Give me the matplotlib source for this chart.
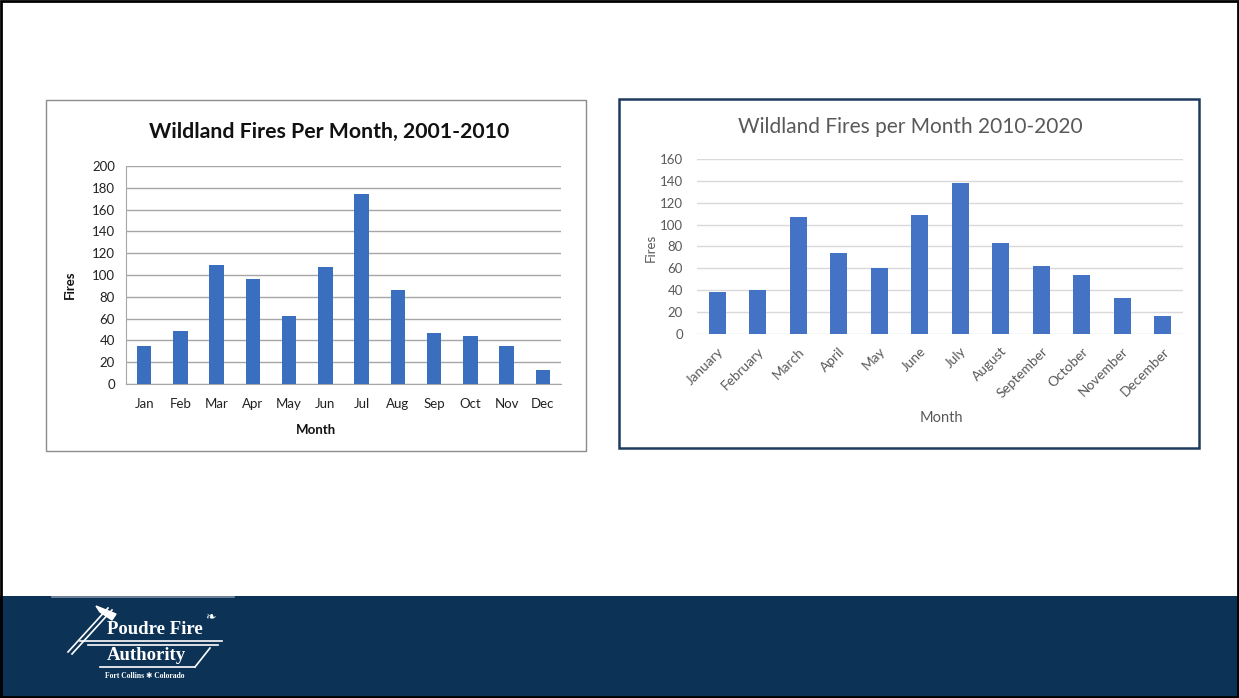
import matplotlib
matplotlib.use("Agg")
import matplotlib.pyplot as plt
from matplotlib.patches import Rectangle, Polygon
from matplotlib.lines import Line2D

# ---------------- data ----------------
months_short = ["Jan", "Feb", "Mar", "Apr", "May", "Jun", "Jul", "Aug", "Sep", "Oct", "Nov", "Dec"]
fires_2001_2010 = [35, 49, 109, 96, 62, 107, 174, 86, 47, 44, 35, 13]
yticks_left = [0, 20, 40, 60, 80, 100, 120, 140, 160, 180, 200]

months_long = ["January", "February", "March", "April", "May", "June", "July",
               "August", "September", "October", "November", "December"]
fires_2010_2020 = [38, 40, 107, 74, 60, 109, 138, 83, 62, 54, 33, 16]
yticks_right = [0, 20, 40, 60, 80, 100, 120, 140, 160]

title_left = "Wildland Fires Per Month, 2001-2010"
title_right = "Wildland Fires per Month 2010-2020"

# ---------------- layout helpers ----------------
W, H = 1239, 698
fig = plt.figure(figsize=(W / 100, H / 100), dpi=100)
fig.patch.set_facecolor("white")


def rect(x0, y0, x1, y1):
    return [x0 / W, 1 - y1 / H, (x1 - x0) / W, (y1 - y0) / H]


def fx(x):
    return x / W


def fy(y):
    return 1 - y / H


# bottom navy band
fig.add_artist(Rectangle((0, 0), 1, fy(596), transform=fig.transFigure,
                         facecolor="#0c3356", edgecolor="none", zorder=0))
fig.add_artist(Line2D([fx(52), fx(234)], [fy(597), fy(597)], transform=fig.transFigure,
                      color="#7f8fa3", lw=1.2))

# outer border
fig.add_artist(Rectangle((0.0008, 0.0014), 0.9984, 0.9972, transform=fig.transFigure,
                         facecolor="none", edgecolor="black", lw=2, zorder=10))

# ---------------- left panel ----------------
fig.add_artist(Rectangle((fx(46), fy(451)), fx(586) - fx(46), fy(100) - fy(451),
                         transform=fig.transFigure, facecolor="white",
                         edgecolor="#8c8c8c", lw=1.0, zorder=1))

axL = fig.add_axes(rect(126, 166, 561, 384))
axL.set_zorder(2)
xL = list(range(len(months_short)))
axL.bar(xL, fires_2001_2010, width=0.4, color="#3a6fc0", zorder=3)
axL.set_xlim(-0.5, 11.5)
axL.set_ylim(0, 200)
axL.set_yticks(yticks_left)
axL.set_xticks(xL)
axL.set_xticklabels(months_short, fontsize=9.5, family="Lato", color="#222222")
axL.set_yticklabels([str(v) for v in yticks_left], fontsize=9.5, family="Lato", color="#222222")
axL.tick_params(axis="both", length=0)
axL.tick_params(axis="y", pad=8)
axL.tick_params(axis="x", pad=10)
axL.grid(axis="y", color="#a6a6a6", lw=1.0, zorder=0)
for s in ["top", "right"]:
    axL.spines[s].set_visible(False)
axL.spines["left"].set_color("#a6a6a6")
axL.spines["bottom"].set_color("#a6a6a6")
axL.set_facecolor("white")

fig.text(fx(329), fy(132), title_left, ha="center", va="center",
         fontsize=15.3, fontweight="bold", family="Lato", color="#111111")
fig.text(fx(70), fy(285), "Fires", ha="center", va="center", rotation=90,
         fontsize=9.5, fontweight="bold", family="Lato", color="#111111")
fig.text(fx(316), fy(430), "Month", ha="center", va="center",
         fontsize=9.5, fontweight="bold", family="Lato", color="#111111")

# ---------------- right panel ----------------
fig.add_artist(Rectangle((fx(619), fy(448)), fx(1199) - fx(619), fy(99) - fy(448),
                         transform=fig.transFigure, facecolor="white",
                         edgecolor="#1f3a5f", lw=1.8, zorder=1))

axR = fig.add_axes(rect(697, 159, 1183, 334))
axR.set_zorder(2)
xR = list(range(len(months_long)))
axR.bar(xR, fires_2010_2020, width=0.42, color="#4472c4", zorder=3)
axR.set_xlim(-0.5, 11.5)
axR.set_ylim(0, 160)
axR.set_yticks(yticks_right)
axR.set_xticks(xR)
axR.set_xticklabels(months_long, fontsize=9.8, family="Lato", color="#595959",
                    rotation=45, ha="right", rotation_mode="anchor")
axR.set_yticklabels([str(v) for v in yticks_right], fontsize=9.5, family="Lato", color="#595959")
axR.tick_params(axis="both", length=0)
axR.tick_params(axis="y", pad=10)
axR.tick_params(axis="x", pad=8)
axR.grid(axis="y", color="#d9d9d9", lw=1.0, zorder=0)
for s in ["top", "right", "left", "bottom"]:
    axR.spines[s].set_visible(False)
axR.set_facecolor("white")

fig.text(fx(910), fy(127), title_right, ha="center", va="center",
         fontsize=15, family="Lato", color="#595959")
fig.text(fx(651), fy(248), "Fires", ha="center", va="center", rotation=90,
         fontsize=9.5, family="Lato", color="#595959")
fig.text(fx(941), fy(418), "Month", ha="center", va="center",
         fontsize=10.5, family="Lato", color="#595959")

# ---------------- logo ----------------
wc = "white"
fig.text(fx(155), fy(629), "Poudre Fire", ha="center", va="center", fontsize=13.5,
         family="Liberation Serif", fontweight="bold", color=wc)
fig.text(fx(146), fy(655), "Authority", ha="center", va="center", fontsize=13.5,
         family="Liberation Serif", fontweight="bold", color=wc)
fig.text(fx(145), fy(676), "Fort Collins \u2731 Colorado", ha="center", va="center",
         fontsize=5.5, family=["Liberation Serif", "DejaVu Sans"], fontweight="bold", color=wc)
# decorative lines
for (x0, y0, x1, y1) in [(80, 641, 222, 641), (88, 645, 218, 645),
                         (100, 667, 195, 667), (195, 667, 210, 648),
                         (68, 652, 108, 608), (72, 654, 112, 610)]:
    fig.add_artist(Line2D([fx(x0), fx(x1)], [fy(y0), fy(y1)], transform=fig.transFigure,
                          color=wc, lw=1.2))
fig.add_artist(Polygon([(fx(96), fy(606)), (fx(116), fy(614)), (fx(112), fy(620)),
                        (fx(100), fy(612))], closed=True, transform=fig.transFigure,
                       facecolor=wc, edgecolor=wc))
fig.text(fx(210), fy(617), "\u2767", ha="center", va="center", fontsize=9, color=wc,
         family="DejaVu Sans")

fig.savefig("out.png", dpi=100)
